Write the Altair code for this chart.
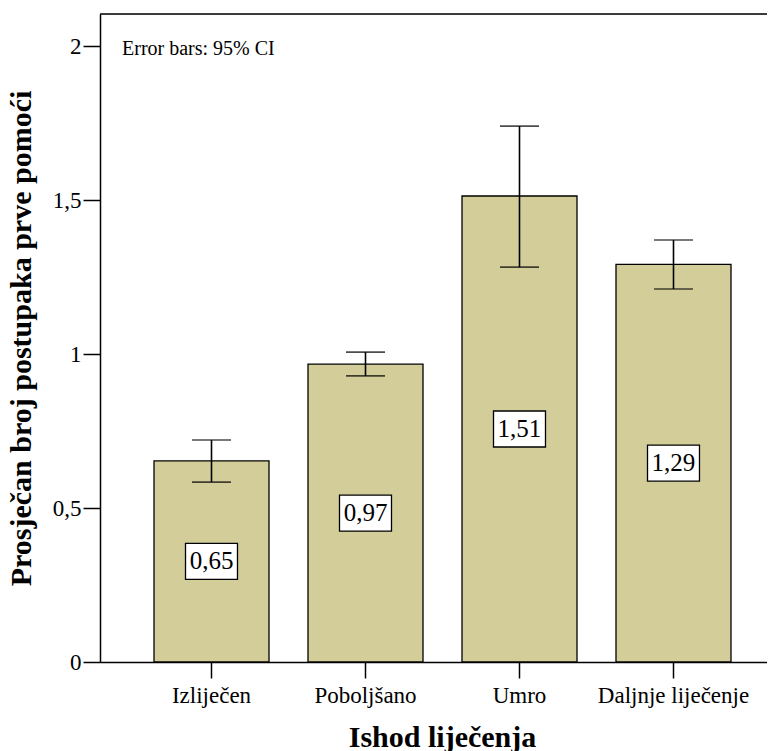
import altair as alt
import pandas as pd

categories = ["Izliječen", "Poboljšano", "Umro", "Daljnje liječenje"]
means = [0.653, 0.967, 1.513, 1.291]
ci_low = [0.584, 0.929, 1.282, 1.211]
ci_high = [0.721, 1.006, 1.740, 1.370]
value_labels = ["0,65", "0,97", "1,51", "1,29"]
y_ticks = [0, 0.5, 1, 1.5, 2]

df = pd.DataFrame({
    "cat": categories,
    "mean": means,
    "lo": ci_low,
    "hi": ci_high,
    "lab": value_labels,
})

W, H = 667, 648
FONT = "Liberation Serif"

xscale = alt.Scale(domain=categories, paddingInner=0.2532, paddingOuter=0.2922, align=0.6)
yscale = alt.Scale(domain=[0, 2.104], nice=False, zero=True)

xenc = alt.X("cat:N", scale=xscale, sort=categories,
             axis=alt.Axis(title="Ishod liječenja", labelAngle=0, labelFontSize=23,
                           labelFont=FONT, labelColor="black", tickSize=16, tickColor="black",
                           tickWidth=1.5, domainColor="black", domainWidth=1.5, labelPadding=6,
                           titleFontSize=30, titleFont=FONT, titleFontWeight="bold",
                           titleColor="black", titleBaseline="alphabetic", titleY=84,
                           titleX=342, titleAlign="center"))
yenc = alt.Y("mean:Q", scale=yscale,
             axis=alt.Axis(title="Prosječan broj postupaka prve pomoći", values=y_ticks,
                           labelExpr="replace(format(datum.value, '~g'), '.', ',')",
                           labelFontSize=23, labelFont=FONT, labelColor="black",
                           tickSize=17, tickColor="black", tickWidth=1.5,
                           domainColor="black", domainWidth=1.5, labelPadding=2, grid=False,
                           titleFontSize=30, titleFont=FONT, titleFontWeight="bold",
                           titleColor="black", titleBaseline="alphabetic", titleX=-70,
                           titleAngle=270))

base = alt.Chart(df)

bars = base.mark_bar(fill="#d3ce99", stroke="black", strokeWidth=1.3).encode(x=xenc, y=yenc)

boxes = base.transform_calculate(mid="datum.mean / 2").mark_point(
    shape="M-1.444,-1L1.444,-1L1.444,1L-1.444,1Z", size=1296, fill="white",
    fillOpacity=1, opacity=1, stroke="black", strokeWidth=1.3
).encode(x=alt.X("cat:N", scale=xscale, sort=categories), y=alt.Y("mid:Q", scale=yscale))

texts = base.transform_calculate(mid="datum.mean / 2").mark_text(
    font=FONT, fontSize=25, color="black", baseline="middle", align="center"
).encode(x=alt.X("cat:N", scale=xscale, sort=categories), y=alt.Y("mid:Q", scale=yscale),
         text="lab:N")

err = base.mark_rule(color="black", strokeWidth=1.6).encode(
    x=alt.X("cat:N", scale=xscale, sort=categories),
    y=alt.Y("lo:Q", scale=yscale), y2="hi:Q")

cap_lo = base.mark_tick(color="black", size=39, thickness=1.6, orient="horizontal").encode(
    x=alt.X("cat:N", scale=xscale, sort=categories), y=alt.Y("lo:Q", scale=yscale))
cap_hi = base.mark_tick(color="black", size=39, thickness=1.6, orient="horizontal").encode(
    x=alt.X("cat:N", scale=xscale, sort=categories), y=alt.Y("hi:Q", scale=yscale))

top_border = alt.Chart(pd.DataFrame({"k": [0]})).mark_rule(color="black", strokeWidth=1.5).encode(
    x=alt.value(0), x2=alt.value(W), y=alt.value(0))

note = alt.Chart(pd.DataFrame({"t": ["Error bars: 95% CI"]})).mark_text(
    font=FONT, fontSize=20, color="black", align="left", baseline="alphabetic"
).encode(x=alt.value(22), y=alt.value(41), text="t:N")

chart = alt.layer(bars, boxes, texts, err, cap_lo, cap_hi, top_border, note).properties(
    width=W, height=H,
    autosize=alt.AutoSizeParams(type="none"),
    padding={"left": 92, "top": 6, "right": 0, "bottom": 89},
    background="white",
).configure_view(fill="#f0f0f0", stroke=None).configure(font=FONT)

chart.save("out.html", embed_options={"renderer": "svg", "actions": False})
